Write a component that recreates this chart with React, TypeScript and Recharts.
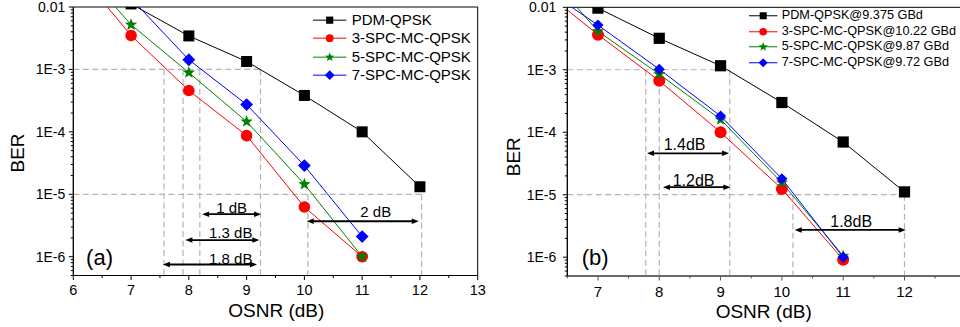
import React from 'react';
import {
  LineChart,
  Line,
  XAxis,
  YAxis,
  ReferenceLine,
  ReferenceDot,
  ReferenceArea,
  Legend,
} from 'recharts';

const FONT = '"Liberation Sans", Arial, Helvetica, sans-serif';

// ---------- data: panel (a) ----------
const osnrPdmA = [7, 8, 9, 10, 11, 12];
const berPdmA = [0.0112, 3.44e-3, 1.34e-3, 3.83e-4, 1.0e-4, 1.32e-5];
const osnrSpc3A = [6, 7, 8, 9, 10, 11];
const berSpc3A = [0.045, 3.5e-3, 4.6e-4, 8.7e-5, 6.25e-6, 1.0e-6];
const osnrSpc5A = [6, 7, 8, 9, 10, 11];
const berSpc5A = [0.058, 5.2e-3, 8.9e-4, 1.46e-4, 1.45e-5, 1.0e-6];
const osnrSpc7A = [7, 8, 9, 10, 11];
const berSpc7A = [0.0137, 1.43e-3, 2.74e-4, 2.88e-5, 2.1e-6];
const namesA = ['PDM-QPSK', '3-SPC-MC-QPSK', '5-SPC-MC-QPSK', '7-SPC-MC-QPSK'];

// ---------- data: panel (b) ----------
const osnrPdmB = [7, 8, 9, 10, 11, 12];
const berPdmB = [0.0097, 3.19e-3, 1.16e-3, 2.99e-4, 6.98e-5, 1.11e-5];
const osnrSpcB = [6, 7, 8, 9, 10, 11];
const berSpc3B = [0.0225, 3.65e-3, 6.66e-4, 1.0e-4, 1.24e-5, 9.1e-7];
const berSpc5B = [0.0545, 4.13e-3, 8.5e-4, 1.6e-4, 1.56e-5, 1.05e-6];
const berSpc7B = [0.0242, 5.2e-3, 1.02e-3, 1.82e-4, 1.8e-5, 1.0e-6];
const namesB = [
  'PDM-QPSK@9.375 GBd',
  '3-SPC-MC-QPSK@10.22 GBd',
  '5-SPC-MC-QPSK@9.87 GBd',
  '7-SPC-MC-QPSK@9.72 GBd',
];

// ---------- ticks ----------
const yMajorTicks = [1e-2, 1e-3, 1e-4, 1e-5, 1e-6];
const yTickLabels = ['0.01', '1E-3', '1E-4', '1E-5', '1E-6'];
const yMinorMantissas = [2, 3, 4, 5, 6, 7, 8, 9];
const yMinorDecades = [1e-7, 1e-6, 1e-5, 1e-4, 1e-3];
const yDomain = [5e-7, 1e-2];
const xTicksA = [6, 6.5, 7, 7.5, 8, 8.5, 9, 9.5, 10, 10.5, 11, 11.5, 12, 12.5, 13];
const xTickLabelsA = ['6', '7', '8', '9', '10', '11', '12', '13'];
const xTicksB = [6.5, 7, 7.5, 8, 8.5, 9, 9.5, 10, 10.5, 11, 11.5, 12, 12.5, 13];
const xTickLabelsB = ['7', '8', '9', '10', '11', '12'];

// ---------- annotations ----------
const hLinesA = [
  { y: 1e-3, x2: 9.24 },
  { y: 1e-5, x2: 12.03 },
];
const vLinesA = [
  { x: 7.57, y: 1e-3 },
  { x: 7.9, y: 1e-3 },
  { x: 8.19, y: 1e-3 },
  { x: 9.24, y: 1e-3 },
  { x: 10.06, y: 1e-5 },
  { x: 12.03, y: 1e-5 },
];
const arrowsA = [
  { x1: 8.23, x2: 9.25, y: 4.8e-6 },
  { x1: 7.94, x2: 9.22, y: 1.85e-6 },
  { x1: 7.55, x2: 9.18, y: 7.5e-7 },
  { x1: 10.04, x2: 11.98, y: 3.7e-6 },
];
const arrowLabelsA = [
  { x: 8.742, y: 6.2e-6, text: '1 dB' },
  { x: 8.725, y: 2.45e-6, text: '1.3 dB' },
  { x: 8.725, y: 9.4e-7, text: '1.8 dB' },
  { x: 11.235, y: 5.2e-6, text: '2 dB' },
];
const hLinesB = [
  { y: 1e-3, x2: 9.15 },
  { y: 1e-5, x2: 12.0 },
];
const vLinesB = [
  { x: 7.78, y: 1e-3 },
  { x: 8.0, y: 1e-3 },
  { x: 9.15, y: 1e-3 },
  { x: 10.18, y: 1e-5 },
  { x: 12.0, y: 1e-5 },
];
const arrowsB = [
  { x1: 7.8, x2: 9.14, y: 4.6e-5 },
  { x1: 8.06, x2: 9.16, y: 1.32e-5 },
  { x1: 10.21, x2: 12.02, y: 2.73e-6 },
];
const arrowLabelsB = [
  { x: 8.413, y: 6.43e-5, text: '1.4dB' },
  { x: 8.56, y: 1.73e-5, text: '1.2dB' },
  { x: 11.13, y: 3.7e-6, text: '1.8dB' },
];

const colors = ['#000000', '#ff0000', '#008000', '#0000ff'];
const shapes = ['square', 'circle', 'star', 'diamond'];

const yMinorTicks: number[] = [];
yMinorDecades.forEach((d) =>
  yMinorMantissas.forEach((m) => {
    const v = m * d;
    if (v >= yDomain[0] * 0.999 && v <= yDomain[1]) yMinorTicks.push(v);
  })
);
const yTicks = [...yMajorTicks, ...yMinorTicks].sort((a, b) => b - a);

const toRows = (xs: number[], ys: number[]) => xs.map((x, i) => ({ osnr: x, ber: ys[i] }));

function starPath(cx: number, cy: number, R: number) {
  const r = R * 0.42;
  let d = '';
  for (let i = 0; i < 10; i++) {
    const a = (-90 + i * 36) * (Math.PI / 180);
    const rr = i % 2 === 0 ? R : r;
    d += (i === 0 ? 'M' : 'L') + (cx + rr * Math.cos(a)).toFixed(2) + ',' + (cy + rr * Math.sin(a)).toFixed(2);
  }
  return d + 'Z';
}

function Marker({ shape, cx, cy, size, color }: any) {
  if (shape === 'square')
    return <rect x={cx - size} y={cy - size} width={size * 2} height={size * 2} fill={color} />;
  if (shape === 'circle') return <circle cx={cx} cy={cy} r={size} fill={color} />;
  if (shape === 'star') return <path d={starPath(cx, cy, size)} fill={color} />;
  return (
    <path
      d={`M${cx},${cy - size}L${cx + size},${cy}L${cx},${cy + size}L${cx - size},${cy}Z`}
      fill={color}
    />
  );
}

const dotFn = (shape: string, size: number, color: string) => (props: any) => {
  const { cx, cy, index } = props;
  if (cx == null || cy == null || isNaN(cx) || isNaN(cy)) return <g key={`e${index}`} />;
  return (
    <g key={`d${index}`}>
      <Marker shape={shape} cx={cx} cy={cy} size={size} color={color} />
    </g>
  );
};

const makeYTick = (fontSize: number, gap: number, color: string) => (props: any) => {
  const { x, y, payload } = props;
  const v = payload.value;
  const idx = yMajorTicks.findIndex((t) => Math.abs(Math.log10(t) - Math.log10(v)) < 1e-6);
  const major = idx >= 0;
  return (
    <g>
      <line x1={x - (major ? 4.5 : 2.5)} x2={x} y1={y} y2={y} stroke={color} strokeWidth={1} />
      {major && (
        <text x={x - gap} y={y} dy="0.35em" textAnchor="end" fontSize={fontSize} fill="#000" fontFamily={FONT}>
          {yTickLabels[idx]}
        </text>
      )}
    </g>
  );
};

const makeXTick = (fontSize: number, dyLabel: number, labels: string[], first: number, color: string) => (
  props: any
) => {
  const { x, y, payload } = props;
  const v = payload.value;
  const major = Math.abs(v - Math.round(v)) < 1e-6;
  const label = major ? labels[Math.round(v) - first] : undefined;
  return (
    <g>
      <line x1={x} x2={x} y1={y} y2={y + (major ? 4.5 : 2.5)} stroke={color} strokeWidth={1} />
      {label !== undefined && (
        <text x={x} y={y + dyLabel} dy="0.35em" textAnchor="middle" fontSize={fontSize} fill="#000" fontFamily={FONT}>
          {label}
        </text>
      )}
    </g>
  );
};

function ArrowShape(props: any) {
  const { x1, y1, x2 } = props;
  const left = Math.min(x1, x2);
  const right = Math.max(x1, x2);
  const y = y1;
  const len = 7;
  const hw = 2.8;
  return (
    <g>
      <line x1={left + len - 1} y1={y} x2={right - len + 1} y2={y} stroke="#000" strokeWidth={1.8} />
      <polygon points={`${left},${y} ${left + len},${y - hw} ${left + len},${y + hw}`} fill="#000" />
      <polygon points={`${right},${y} ${right - len},${y - hw} ${right - len},${y + hw}`} fill="#000" />
    </g>
  );
}

function LegendBox({ names, rowH, sampleW, gap, fontSize, markerSizes }: any) {
  return (
    <div style={{ fontFamily: FONT, fontSize, color: '#000', lineHeight: `${rowH}px` }}>
      {names.map((n: string, i: number) => (
        <div key={n} style={{ display: 'flex', alignItems: 'center', height: rowH, whiteSpace: 'nowrap' }}>
          <svg width={sampleW} height={rowH} style={{ display: 'block', flex: 'none' }}>
            <line x1={0} x2={sampleW} y1={rowH / 2} y2={rowH / 2} stroke={colors[i]} strokeWidth={1} />
            <Marker shape={shapes[i]} cx={sampleW / 2} cy={rowH / 2} size={markerSizes[i]} color={colors[i]} />
          </svg>
          <span style={{ marginLeft: gap }}>{n}</span>
        </div>
      ))}
    </div>
  );
}

const dashStroke = '#b4b4b4';
const dashArray = '6 3.5';

function Panel(props: any) {
  const {
    width,
    margin,
    xDomain,
    xTicks,
    xTickLabels,
    xFirst,
    series,
    hLines,
    vLines,
    arrows,
    arrowLabels,
    arrowFont,
    panelLabel,
    yGap,
    xTickFont,
    xTickDy,
    xAxisColor,
    legend,
    berPos,
    osnrPos,
  } = props;
  return (
    <LineChart width={width} height={327} margin={margin}>
      <XAxis
        type="number"
        dataKey="osnr"
        domain={xDomain}
        allowDataOverflow
        ticks={xTicks}
        interval={0}
        tickSize={0}
        tickMargin={0}
        tickLine={false}
        height={30}
        axisLine={{ stroke: xAxisColor, strokeWidth: 1 }}
        tick={makeXTick(xTickFont, xTickDy, xTickLabels, xFirst, xAxisColor)}
        label={(p: any) => {
          const vb = p.viewBox || {};
          return (
            <text
              x={vb.x + vb.width / 2 + osnrPos[0]}
              y={vb.y + osnrPos[1]}
              dy="0.35em"
              textAnchor="middle"
              fontSize={19}
              fill="#000"
              fontFamily={FONT}
            >
              OSNR (dB)
            </text>
          );
        }}
      />
      <YAxis
        type="number"
        scale="log"
        domain={yDomain}
        allowDataOverflow
        ticks={yTicks}
        interval={0}
        tickSize={0}
        tickMargin={0}
        tickLine={false}
        width={60}
        axisLine={{ stroke: '#000', strokeWidth: 1 }}
        tick={makeYTick(14, yGap, '#000')}
        label={(p: any) => {
          const vb = p.viewBox || {};
          const cx = vb.x + berPos[0];
          const cy = vb.y + berPos[1];
          return (
            <text
              x={cx}
              y={cy}
              dy="0.35em"
              textAnchor="middle"
              fontSize={19}
              fill="#000"
              fontFamily={FONT}
              transform={`rotate(-90 ${cx} ${cy})`}
            >
              BER
            </text>
          );
        }}
      />
      {hLines.map((h: any, i: number) => (
        <ReferenceLine
          key={`h${i}`}
          segment={[
            { x: xDomain[0], y: h.y },
            { x: h.x2, y: h.y },
          ]}
          stroke={dashStroke}
          strokeDasharray={dashArray}
          strokeWidth={1.2}
        />
      ))}
      {vLines.map((v: any, i: number) => (
        <ReferenceLine
          key={`v${i}`}
          segment={[
            { x: v.x, y: v.y },
            { x: v.x, y: yDomain[0] },
          ]}
          stroke={dashStroke}
          strokeDasharray={dashArray}
          strokeWidth={1.2}
        />
      ))}
      {series.map((s: any, i: number) => (
        <Line
          key={s.name}
          name={s.name}
          data={s.data}
          dataKey="ber"
          type="linear"
          stroke={colors[i]}
          strokeWidth={1}
          dot={dotFn(shapes[i], s.size, colors[i])}
          activeDot={false}
          isAnimationActive={false}
        />
      ))}
      {arrows.map((a: any, i: number) => (
        <ReferenceLine
          key={`a${i}`}
          segment={[
            { x: a.x1, y: a.y },
            { x: a.x2, y: a.y },
          ]}
          stroke="#000"
          shape={ArrowShape}
        />
      ))}
      {arrowLabels.map((l: any, i: number) => (
        <ReferenceDot
          key={`l${i}`}
          x={l.x}
          y={l.y}
          r={0}
          fill="none"
          stroke="none"
          label={{ value: l.text, position: 'center', fontSize: arrowFont, fill: '#000', fontFamily: FONT }}
        />
      ))}
      <ReferenceDot
        x={panelLabel.x}
        y={panelLabel.y}
        r={0}
        fill="none"
        stroke="none"
        label={{ value: panelLabel.text, position: 'center', fontSize: 22, fill: '#000', fontFamily: FONT }}
      />
      <ReferenceArea
        x1={xDomain[0]}
        x2={xDomain[1]}
        y1={yDomain[0]}
        y2={yDomain[1]}
        fill="none"
        fillOpacity={0}
        stroke="#000"
        strokeWidth={1}
      />
      <Legend
        layout="vertical"
        align="center"
        verticalAlign="middle"
        wrapperStyle={{ left: legend.left, top: legend.top, width: legend.width }}
        content={() => (
          <LegendBox
            names={legend.names}
            rowH={legend.rowH}
            sampleW={legend.sampleW}
            gap={legend.gap}
            fontSize={legend.fontSize}
            markerSizes={legend.markerSizes}
          />
        )}
      />
    </LineChart>
  );
}

export default function App() {
  const seriesA = [
    { name: namesA[0], data: toRows(osnrPdmA, berPdmA), size: 5.5 },
    { name: namesA[1], data: toRows(osnrSpc3A, berSpc3A), size: 5.8 },
    { name: namesA[2], data: toRows(osnrSpc5A, berSpc5A), size: 6.5 },
    { name: namesA[3], data: toRows(osnrSpc7A, berSpc7A), size: 6.4 },
  ];
  const seriesB = [
    { name: namesB[0], data: toRows(osnrPdmB, berPdmB), size: 5.6 },
    { name: namesB[1], data: toRows(osnrSpcB, berSpc3B), size: 6 },
    { name: namesB[2], data: toRows(osnrSpcB, berSpc5B), size: 6.4 },
    { name: namesB[3], data: toRows(osnrSpcB, berSpc7B), size: 5.6 },
  ];
  return (
    <div
      style={{
        position: 'absolute',
        left: 0,
        top: 0,
        width: 960,
        height: 327,
        overflow: 'hidden',
        background: '#fff',
        fontFamily: FONT,
      }}
    >
      <div style={{ position: 'absolute', left: 0, top: 0 }}>
        <Panel
          width={500}
          margin={{ top: 7, right: 22.3, bottom: 21.5, left: 13.3 }}
          xDomain={[6, 13]}
          xTicks={xTicksA}
          xTickLabels={xTickLabelsA}
          xFirst={6}
          series={seriesA}
          hLines={hLinesA}
          vLines={vLinesA}
          arrows={arrowsA}
          arrowLabels={arrowLabelsA}
          arrowFont={15}
          panelLabel={{ x: 6.454, y: 1e-6, text: '(a)' }}
          yGap={8}
          xTickFont={14.5}
          xTickDy={14.5}
          xAxisColor="#000"
          berPos={[4, 146]}
          osnrPos={[0.8, 35.2]}
          legend={{
            names: namesA,
            left: 313.3,
            top: 10.85,
            width: 180,
            rowH: 18.33,
            sampleW: 33.4,
            gap: 5,
            fontSize: 15,
            markerSizes: [3.6, 3.9, 4.8, 4.8],
          }}
        />
      </div>
      <div style={{ position: 'absolute', left: 480, top: 0 }}>
        <Panel
          width={500}
          margin={{ top: 7.3, right: 14.2, bottom: 21, left: 27.3 }}
          xDomain={[6.5, 13]}
          xTicks={xTicksB}
          xTickLabels={xTickLabelsB}
          xFirst={7}
          series={seriesB}
          hLines={hLinesB}
          vLines={vLinesB}
          arrows={arrowsB}
          arrowLabels={arrowLabelsB}
          arrowFont={16}
          panelLabel={{ x: 6.956, y: 1e-6, text: '(b)' }}
          yGap={11}
          xTickFont={15}
          xTickDy={16}
          xAxisColor="#555"
          berPos={[6, 149.4]}
          osnrPos={[-2.85, 35.7]}
          legend={{
            names: namesB,
            left: 269.3,
            top: 8.2,
            width: 210,
            rowH: 15.55,
            sampleW: 28.4,
            gap: 4,
            fontSize: 12.7,
            markerSizes: [3.5, 3.8, 4.8, 4.5],
          }}
        />
      </div>
    </div>
  );
}
